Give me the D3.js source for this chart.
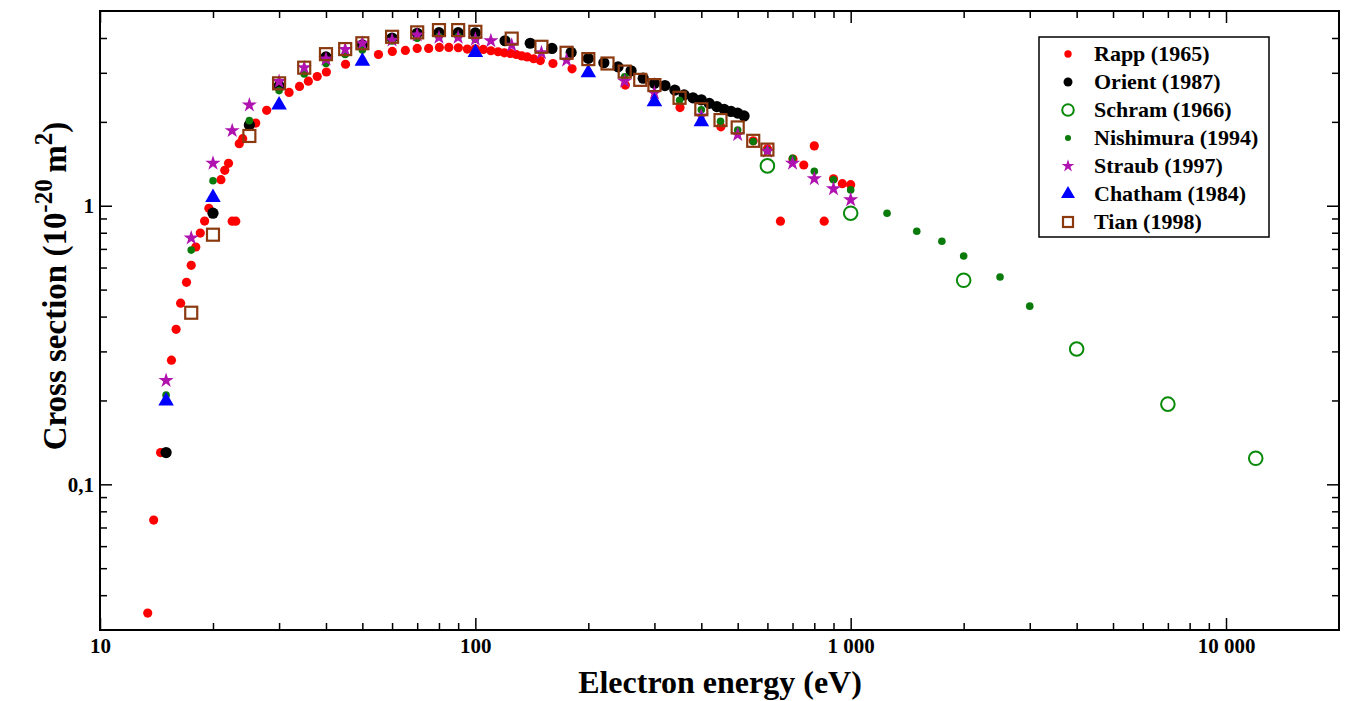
<!DOCTYPE html>
<html lang="en">
<head>
<meta charset="UTF-8">
<title>Cross section vs electron energy</title>
<script src="https://d3js.org/d3.v7.min.js"></script>
<style>
    body { margin: 0; background: #fff; }
    svg { display: block; }
    svg text { font-family: "Liberation Serif", "Times New Roman", Times, "DejaVu Serif", serif !important; font-weight: bold; fill: #000; }
    .axis path { display: none; }
    .axis line { stroke: #000; stroke-width: 1.5px; }
    .axis text { font-size: 21px; }
</style>
</head>
<body>
<svg id="chart" width="1353" height="701"></svg>
<script>
// --- data (energy in eV, cross section in 1e-20 m2) ---
const rappE = [13.4, 13.9, 14.5, 15.5, 15.95, 16.4, 17.0, 17.5, 18.0, 18.5, 19.0, 19.5,
    21.0, 21.5, 22.0, 22.5, 23.0, 23.5, 24.0, 26.0, 27.8, 31.9, 34.0, 35.9, 37.9, 40.1, 45.1,
    55.2, 60.1, 65.1, 70.0, 75.1, 80.2, 85.0, 90.1, 95.2, 100, 105, 110, 115, 119.5, 124,
    128.5, 133, 137.5, 143, 149, 161, 181, 251, 351, 451, 550, 600, 650, 702, 750, 800, 850,
    900, 950, 1000];
const rappS = [0.0345, 0.0744, 0.130, 0.279, 0.360, 0.447, 0.531, 0.611, 0.711, 0.798, 0.881, 0.979,
    1.24, 1.34, 1.42, 0.88, 0.88, 1.67, 1.74, 1.98, 2.20, 2.55, 2.68, 2.80, 2.91, 3.02, 3.22,
    3.49, 3.58, 3.61, 3.67, 3.67, 3.70, 3.70, 3.69, 3.65, 3.66, 3.64, 3.60, 3.57, 3.54, 3.52,
    3.49, 3.45, 3.42, 3.37, 3.32, 3.24, 3.10, 2.71, 2.25, 1.92, 1.71, 1.60, 0.88, 1.47, 1.40, 1.64, 0.88,
    1.25, 1.20, 1.19];

const orientE = [15, 20, 25, 30, 40, 50, 60, 70, 80, 90, 100, 120, 140, 160, 180, 200, 220, 240,
    260, 280, 300, 320, 340, 360, 380, 400, 420, 440, 460, 480, 500, 520];
const orientS = [0.13, 0.94, 1.95, 2.69, 3.42, 3.78, 4.00, 4.16, 4.18, 4.18, 4.17, 3.91, 3.83, 3.67,
    3.55, 3.38, 3.26, 3.15, 3.05, 2.87, 2.75, 2.70, 2.60, 2.50, 2.44, 2.40, 2.33, 2.27, 2.22, 2.18,
    2.15, 2.10];

const schramE = [600, 1000, 2000, 4000, 7000, 12000];
const schramS = [1.39, 0.94, 0.54, 0.306, 0.194, 0.124];

const nishE = [15, 17.5, 20, 25, 30, 35, 40, 45, 50, 60, 70, 80, 90, 100, 250, 350, 400, 450, 500,
    550, 600, 700, 800, 900, 1000, 1250, 1500, 1750, 2000, 2500, 3000];
const nishS = [0.209, 0.693, 1.23, 2.02, 2.59, 2.97, 3.24, 3.49, 3.62, 3.90, 3.99, 4.05, 4.05, 3.96,
    2.90, 2.39, 2.21, 2.01, 1.87, 1.70, 1.58, 1.48, 1.33, 1.24, 1.14, 0.94, 0.81, 0.746, 0.66,
    0.555, 0.436];

const straubE = [15, 17.5, 20, 22.5, 25, 30, 35, 40, 45, 50, 60, 70, 80, 90, 100, 110, 125, 150, 175,
    250, 300, 400, 500, 600, 700, 800, 900, 1000];
const straubS = [0.236, 0.766, 1.42, 1.86, 2.30, 2.79, 3.13, 3.36, 3.64, 3.83, 3.93, 4.10, 4.02, 4.02,
    3.96, 3.91, 3.77, 3.54, 3.33, 2.80, 2.54, 2.10, 1.80, 1.57, 1.42, 1.25, 1.15, 1.05];

const chathamE = [15, 20, 30, 50, 100, 200, 300, 400];
const chathamS = [0.199, 1.07, 2.30, 3.30, 3.55, 3.00, 2.36, 2.00];

const tianE = [17.5, 20, 25, 30, 35, 40, 45, 50, 60, 70, 80, 90, 100, 125, 150, 175, 200, 225, 250,
    275, 300, 350, 400, 450, 500, 550, 600];
const tianS = [0.413, 0.787, 1.78, 2.75, 3.13, 3.50, 3.65, 3.83, 4.04, 4.19, 4.27, 4.27, 4.21, 3.98,
    3.72, 3.54, 3.36, 3.24, 3.03, 2.83, 2.71, 2.44, 2.22, 2.03, 1.91, 1.71, 1.59];

const xMajor = [10, 100, 1000, 10000];
const yMajor = [0.1, 1];

// legend order
const legendNames = ["Rapp (1965)", "Orient (1987)", "Schram (1966)", "Nishimura (1994)",
    "Straub (1997)", "Chatham (1984)", "Tian (1998)"];

// --- layout ---
const svg = d3.select("#chart");
const plotL = 100, plotR = 1339, plotT = 11, plotB = 630;

const x = d3.scaleLog().domain([10, 20000]).range([plotL, plotR]);
const y = d3.scaleLog().domain([0.03, 5]).range([plotB, plotT]);

// minor ticks per decade
const xMinor = [];
for (let d = 10; d < 20000; d *= 10) {
    for (let k = 2; k <= 9; k++) if (d * k < 20000) xMinor.push(d * k);
}
const yMinor = [];
for (let d = 0.01; d < 5; d *= 10) {
    for (let k = 2; k <= 9; k++) {
        const v = +(d * k).toPrecision(3);
        if (v > 0.03 && v < 5) yMinor.push(v);
    }
}

const fmtX = v => d3.format(",")(v).replace(/,/g, " ");
const fmtY = v => String(v).replace(".", ",");

// axes (ticks inside the frame on all four sides)
function axisGroup(tr) {
    return svg.append("g").attr("class", "axis").attr("transform", tr);
}
axisGroup(`translate(0,${plotB})`)
    .call(d3.axisBottom(x).tickValues(xMajor).tickSize(-12).tickPadding(8).tickFormat(fmtX));
axisGroup(`translate(0,${plotB})`)
    .call(d3.axisBottom(x).tickValues(xMinor).tickSize(-7).tickFormat(""));
axisGroup(`translate(0,${plotT})`)
    .call(d3.axisTop(x).tickValues(xMajor).tickSize(-12).tickFormat(""));
axisGroup(`translate(0,${plotT})`)
    .call(d3.axisTop(x).tickValues(xMinor).tickSize(-7).tickFormat(""));

axisGroup(`translate(${plotL},0)`)
    .call(d3.axisLeft(y).tickValues(yMajor).tickSize(-12).tickPadding(6).tickFormat(fmtY));
axisGroup(`translate(${plotL},0)`)
    .call(d3.axisLeft(y).tickValues(yMinor).tickSize(-7).tickFormat(""));
axisGroup(`translate(${plotR},0)`)
    .call(d3.axisRight(y).tickValues(yMajor).tickSize(-12).tickFormat(""));
axisGroup(`translate(${plotR},0)`)
    .call(d3.axisRight(y).tickValues(yMinor).tickSize(-7).tickFormat(""));

svg.selectAll(".axis").attr("font-family", null);

svg.append("rect")
    .attr("x", plotL).attr("y", plotT)
    .attr("width", plotR - plotL).attr("height", plotB - plotT)
    .attr("fill", "none").attr("stroke", "#000").attr("stroke-width", 2);

// --- marker drawing ---
function drawMarker(g, kind, big) {
    const s = big ? 1 : 0.8;
    if (kind === "rapp") g.append("circle").attr("r", 4.6 * s).attr("fill", "#ff0000");
    else if (kind === "orient") g.append("circle").attr("r", 5.6 * s).attr("fill", "#000");
    else if (kind === "schram") g.append("circle").attr("r", 6.8 * (big ? 1 : 0.85))
        .attr("fill", "none").attr("stroke", "#0a8a0a").attr("stroke-width", 2);
    else if (kind === "nish") g.append("circle").attr("r", 3.8 * s).attr("fill", "#0a7a0a");
    else if (kind === "straub") g.append("path")
        .attr("d", d3.symbol().type(d3.symbolStar).size(big ? 72 : 50)())
        .attr("fill", "#b012b0");
    else if (kind === "chatham") g.append("path")
        .attr("d", d3.symbol().type(d3.symbolTriangle).size(big ? 105 : 85)())
        .attr("fill", "#0000ff");
    else if (kind === "tian") {
        const h = big ? 6 : 5;
        g.append("rect").attr("x", -h).attr("y", -h).attr("width", 2 * h).attr("height", 2 * h)
            .attr("fill", "none").attr("stroke", "#8b3a10").attr("stroke-width", 2.2);
    }
}

function plotSeries(kind, es, ss) {
    const g = svg.append("g");
    es.forEach((e, i) => {
        const m = g.append("g").attr("transform", `translate(${x(e)},${y(ss[i])})`);
        drawMarker(m, kind, true);
    });
}

plotSeries("rapp", rappE, rappS);
plotSeries("orient", orientE, orientS);
plotSeries("nish", nishE, nishS);
plotSeries("schram", schramE, schramS);
plotSeries("straub", straubE, straubS);
plotSeries("chatham", chathamE, chathamS);
plotSeries("tian", tianE, tianS);

// --- legend ---
const legendKinds = ["rapp", "orient", "schram", "nish", "straub", "chatham", "tian"];
const lg = svg.append("g").attr("transform", "translate(1039,37)");
lg.append("rect").attr("width", 230).attr("height", 200)
    .attr("fill", "#fff").attr("stroke", "#000").attr("stroke-width", 1.5);
legendNames.forEach((name, i) => {
    const row = lg.append("g").attr("transform", `translate(0,${17 + i * 28})`);
    drawMarker(row.append("g").attr("transform", "translate(29,0)"), legendKinds[i], false);
    row.append("text").attr("x", 55).attr("y", 7).style("font-size", "22px").text(name);
});

// --- axis titles ---
svg.append("text")
    .attr("x", 720).attr("y", 693)
    .attr("text-anchor", "middle")
    .style("font-size", "32px")
    .text("Electron energy (eV)");

const yt = svg.append("text")
    .attr("transform", "translate(66,286) rotate(-90)")
    .attr("text-anchor", "middle")
    .style("font-size", "33px");
yt.append("tspan").text("Cross section (10");
yt.append("tspan").attr("dy", -14).style("font-size", "25px").text("-20");
yt.append("tspan").attr("dy", 14).text("\u2009m");
yt.append("tspan").attr("dy", -14).style("font-size", "25px").text("2");
yt.append("tspan").attr("dy", 14).text(")");
</script>
</body>
</html>
